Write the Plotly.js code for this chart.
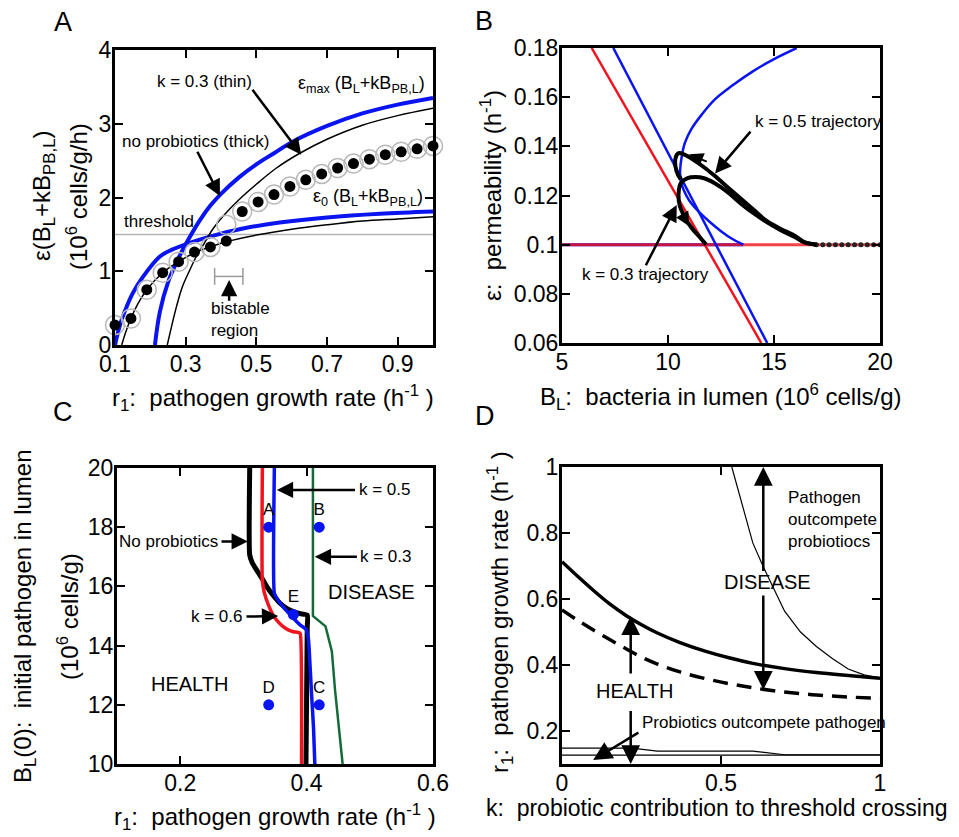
<!DOCTYPE html>
<html><head><meta charset="utf-8">
<script src="https://cdn.plot.ly/plotly-3.0.1.min.js"></script>
<style>html,body{margin:0;padding:0;background:#fff}#chart{width:959px;height:837px}</style>
</head><body><div id="chart"></div>
<script>
// ---------- Panel A data ----------
const aMaxThickR = [0.213,0.227,0.25,0.28,0.31,0.34,0.37,0.4,0.45,0.5,0.55,0.6,0.7,0.8,0.9,1.0];
const aMaxThickE = [0,0.45,0.85,1.18,1.45,1.69,1.89,2.05,2.27,2.45,2.6,2.75,2.97,3.14,3.26,3.35];
const aMaxThinR = [0.248,0.26,0.274,0.29,0.312,0.33,0.349,0.378,0.416,0.462,0.5,0.557,0.623,0.7,0.8,0.9,1.0];
const aMaxThinE = [0,0.25,0.52,0.78,1.02,1.2,1.35,1.58,1.8,2.02,2.18,2.4,2.6,2.79,2.98,3.11,3.21];
const aE0ThickR = [0.1,0.11,0.12,0.133,0.15,0.18,0.227,0.26,0.303,0.368,0.462,0.566,0.7,0.85,1.0];
const aE0ThickE = [0,0.2,0.36,0.52,0.7,0.93,1.2,1.29,1.37,1.47,1.58,1.66,1.73,1.78,1.81];
const aE0ThinR = [0.119,0.13,0.145,0.165,0.19,0.235,0.28,0.325,0.37,0.415,0.5,0.6,0.7,0.8,0.9,1.0];
const aE0ThinE = [0,0.17,0.36,0.56,0.75,0.98,1.13,1.25,1.33,1.4,1.49,1.57,1.63,1.68,1.71,1.74];
const aDotR = [0.1,0.145,0.19,0.235,0.28,0.325,0.37,0.415,0.46,0.505,0.55,0.595,0.64,0.685,0.73,0.775,0.82,0.865,0.91,0.955,1.0];
const aDotE = [0.27,0.36,0.75,0.98,1.13,1.26,1.33,1.41,1.81,1.94,2.04,2.15,2.24,2.32,2.40,2.46,2.52,2.58,2.62,2.66,2.70];
const aRingE = [0.27,0.36,0.75,0.98,1.13,1.26,1.33,1.63,1.81,1.94,2.04,2.15,2.24,2.32,2.40,2.46,2.52,2.58,2.62,2.66,2.70];
const aThreshR = [0.1,1.0];
const aThreshE = [1.5,1.5];
const aBistR = [0.382,0.462];
const aBistE = [0.93,0.93];
const aXTicks = [0.1,0.3,0.5,0.7,0.9];
const aXTickText = ['0.1','0.3','0.5','0.7','0.9'];
const aYTicks = [0,1,2,3,4];

// ---------- Panel B data ----------
const bRedLineX = [6.4,14.4];
const bRedLineY = [0.18,0.06];
const bBlueLineX = [7.42,14.68];
const bBlueLineY = [0.18,0.06];
const bBlueCurveX = [16.07,15.0,14.0,13.0,12.2,11.6,11.1,10.8,10.65,10.57,10.6,10.75,11.0,11.5,12.0,12.5,13.0,13.55];
const bBlueCurveY = [0.18,0.1755,0.1705,0.1645,0.159,0.153,0.147,0.1415,0.136,0.13,0.126,0.122,0.118,0.113,0.109,0.1055,0.1025,0.1];
const bFloorBlueX = [5,13.55];
const bFloorBlueY = [0.1,0.1];
const bFloorRedX = [5,20];
const bFloorRedY = [0.1,0.1];
const bTraj05X = [17.0,16.4,16.0,15.3,14.6,14.0,13.4,12.8,12.2,11.7,11.2,10.8,10.5,10.35,10.4,10.6];
const bTraj05Y = [0.1,0.1012,0.1035,0.1065,0.11,0.1145,0.119,0.1235,0.128,0.1315,0.1345,0.1365,0.1372,0.135,0.13,0.1265];
const bTraj03X = [17.0,16.4,16.0,15.3,14.6,14.0,13.4,12.8,12.2,11.7,11.3,10.9,10.6,10.5,10.55,10.8,11.1,11.5,11.8];
const bTraj03Y = [0.1,0.101,0.103,0.106,0.1095,0.113,0.117,0.1215,0.125,0.127,0.1275,0.127,0.125,0.121,0.116,0.111,0.107,0.103,0.1];
const bTailDotX = [17.0,17.3,17.6,17.9,18.2,18.5,18.8,19.1,19.4,19.7,20.0];
const bTailDotY = [0.1,0.1,0.1,0.1,0.1,0.1,0.1,0.1,0.1,0.1,0.1];
const bXTicks = [5,10,15,20];
const bYTicks = [0.06,0.08,0.1,0.12,0.14,0.16,0.18];
const bYTickText = ['0.06','0.08','0.1','0.12','0.14','0.16','0.18'];

// ---------- Panel C data ----------
const cNoPbR = [0.310,0.310,0.314,0.321,0.330,0.337,0.347,0.358,0.369,0.379,0.390,0.401,0.401,0.399];
const cNoPbB = [20,17.06,16.8,16.55,16.25,15.99,15.7,15.43,15.25,15.15,15.08,15.03,14.6,10];
const cK06R = [0.330,0.330,0.333,0.340,0.347,0.355,0.363,0.371,0.379,0.388,0.390,0.392];
const cK06B = [20,16.2,15.8,15.35,15.03,14.8,14.64,14.53,14.47,14.44,14.4,10];
const cK05R = [0.349,0.349,0.353,0.3585,0.365,0.372,0.381,0.3896,0.399,0.403,0.405,0.408,0.411,0.413];
const cK05B = [20,15.77,15.6,15.43,15.25,15.09,14.88,14.7,14.55,14.2,13.5,12.3,11.2,10];
const cK03R = [0.41,0.41,0.43,0.44,0.445,0.457];
const cK03B = [20,15.0,14.65,13.8,12.5,10];
const cPtR = [0.34,0.42,0.42,0.34,0.379];
const cPtB = [18,18,12,12,15.05];
const cPtLabel = ['A','B','C','D','E'];
const cXTicks = [0.2,0.4,0.6];
const cYTicks = [10,12,14,16,18,20];

// ---------- Panel D data ----------
const dK = [0,0.05,0.1,0.15,0.2,0.25,0.3,0.371,0.45,0.528,0.6,0.7,0.8,0.9,1.0];
const dSolid = [0.713,0.668,0.625,0.585,0.551,0.522,0.497,0.468,0.442,0.421,0.405,0.389,0.377,0.368,0.36];
const dDashed = [0.567,0.535,0.505,0.477,0.45,0.424,0.403,0.379,0.359,0.343,0.331,0.318,0.309,0.303,0.299];
const dUpperK = [0.534,0.56,0.6,0.633,0.7,0.75,0.8,0.85,0.9,0.95,1.0];
const dUpperR = [1.0,0.91,0.77,0.698,0.563,0.5,0.456,0.42,0.388,0.37,0.36];
const dLowAK = [0,0.22,0.3,0.6,0.7,1.0];
const dLowAR = [0.148,0.148,0.139,0.139,0.128,0.128];
const dLowBK = [0,1];
const dLowBR = [0.127,0.127];
const dXTicks = [0,0.5,1];
const dYTicks = [0.2,0.4,0.6,0.8,1];
const dYTickText = ['0.2','0.4','0.6','0.8','1'];

// ---------- layout helpers ----------
const W = 959, H = 837;
const px = v => v / W, py = v => 1 - v / H;
function axis(domain, range, tickvals, ticktext, anchor) {
  const o = {domain, range, tickmode:'array', tickvals, ticks:'inside', ticklen:8, tickwidth:2,
    tickcolor:'#000', showline:true, linewidth:3, linecolor:'#000', mirror:'allticks',
    showgrid:false, zeroline:false, tickfont:{size:23, color:'#000'}, anchor, fixedrange:true,
    ticklabelstandoff:-4};
  if (ticktext) o.ticktext = ticktext;
  return o;
}
function arrow(xa, ya, tailX, tailY, tipX, tipY, extra) {
  return Object.assign({xref:xa, yref:ya, axref:xa, ayref:ya, x:tipX, y:tipY, ax:tailX, ay:tailY,
    text:'', showarrow:true, arrowhead:2, arrowsize:1.3, arrowwidth:2.5, arrowcolor:'#000', standoff:0, startstandoff:0}, extra || {});
}
function label(xa, ya, x, y, text, size, xanchor, extra) {
  return Object.assign({xref:xa, yref:ya, x, y, text, showarrow:false, font:{size:size, color:'#000'},
    xanchor:xanchor || 'center', yanchor:'middle'}, extra || {});
}
function ptext(x, y, text, size, angle, extra) {
  return Object.assign({xref:'paper', yref:'paper', x:px(x), y:py(y), text, showarrow:false,
    font:{size:size, color:'#000'}, textangle:angle || 0, xanchor:'center', yanchor:'middle'}, extra || {});
}

const blue = '#0a14f0', red = '#f0141e', green = '#156b38';

const traces = [
  // Panel A
  {x:aThreshR, y:aThreshE, xaxis:'x', yaxis:'y', mode:'lines', line:{color:'#b4b4b4', width:1.5}},
  {x:aMaxThickR, y:aMaxThickE, xaxis:'x', yaxis:'y', mode:'lines', line:{color:blue, width:4, shape:'spline'}},
  {x:aE0ThickR, y:aE0ThickE, xaxis:'x', yaxis:'y', mode:'lines', line:{color:blue, width:4, shape:'spline'}},
  {x:aMaxThinR, y:aMaxThinE, xaxis:'x', yaxis:'y', mode:'lines', line:{color:'#000', width:1.5, shape:'spline'}},
  {x:aE0ThinR, y:aE0ThinE, xaxis:'x', yaxis:'y', mode:'lines', line:{color:'#000', width:1.5, shape:'spline'}},
  {x:aBistR, y:aBistE, xaxis:'x', yaxis:'y', mode:'lines+markers', line:{color:'#9a9a9a', width:1.5},
    marker:{symbol:'line-ns-open', size:12, color:'#9a9a9a', line:{width:1.5, color:'#9a9a9a'}}},
  {x:aDotR, y:aRingE, xaxis:'x', yaxis:'y', mode:'markers', cliponaxis:false,
    marker:{symbol:'circle-open', size:19, color:'#b8b8b8', line:{width:1.5, color:'#b8b8b8'}}},
  {x:aDotR, y:aDotE, xaxis:'x', yaxis:'y', mode:'markers', cliponaxis:false,
    marker:{symbol:'circle', size:11, color:'#000'}},
  // Panel B
  {x:bFloorBlueX, y:bFloorBlueY, xaxis:'x2', yaxis:'y2', mode:'lines', line:{color:blue, width:3}},
  {x:bFloorRedX, y:bFloorRedY, xaxis:'x2', yaxis:'y2', mode:'lines', opacity:0.8, line:{color:red, width:3}},
  {x:bRedLineX, y:bRedLineY, xaxis:'x2', yaxis:'y2', mode:'lines', line:{color:red, width:2.5}},
  {x:bBlueLineX, y:bBlueLineY, xaxis:'x2', yaxis:'y2', mode:'lines', line:{color:blue, width:2.5}},
  {x:bBlueCurveX, y:bBlueCurveY, xaxis:'x2', yaxis:'y2', mode:'lines', line:{color:blue, width:2.5, shape:'spline'}},
  {x:bTailDotX, y:bTailDotY, xaxis:'x2', yaxis:'y2', mode:'markers', cliponaxis:false, marker:{size:5, color:'#222'}},
  {x:bTraj05X, y:bTraj05Y, xaxis:'x2', yaxis:'y2', mode:'lines', line:{color:'#000', width:4, shape:'spline'}},
  {x:bTraj03X, y:bTraj03Y, xaxis:'x2', yaxis:'y2', mode:'lines', line:{color:'#000', width:4, shape:'spline'}},
  // Panel C
  {x:cNoPbR, y:cNoPbB, xaxis:'x3', yaxis:'y3', mode:'lines', line:{color:'#000', width:5, shape:'spline', smoothing:0.5}},
  {x:cK06R, y:cK06B, xaxis:'x3', yaxis:'y3', mode:'lines', line:{color:red, width:3.5, shape:'spline', smoothing:0.5}},
  {x:cK05R, y:cK05B, xaxis:'x3', yaxis:'y3', mode:'lines', line:{color:blue, width:3.5, shape:'spline', smoothing:0.5}},
  {x:cK03R, y:cK03B, xaxis:'x3', yaxis:'y3', mode:'lines', line:{color:green, width:2.5}},
  {x:cPtR, y:cPtB, text:cPtLabel, xaxis:'x3', yaxis:'y3', mode:'markers+text', textposition:'top center',
    textfont:{size:17, color:'#000'}, marker:{size:11, color:blue}},
  // Panel D
  {x:dK, y:dSolid, xaxis:'x4', yaxis:'y4', mode:'lines', line:{color:'#000', width:3.5, shape:'spline'}},
  {x:dK, y:dDashed, xaxis:'x4', yaxis:'y4', mode:'lines', line:{color:'#000', width:3.5, dash:'15px,9px', shape:'spline'}},
  {x:dUpperK, y:dUpperR, xaxis:'x4', yaxis:'y4', mode:'lines', line:{color:'#000', width:1.2}},
  {x:dLowAK, y:dLowAR, xaxis:'x4', yaxis:'y4', mode:'lines', line:{color:'#000', width:1.2}},
  {x:dLowBK, y:dLowBR, xaxis:'x4', yaxis:'y4', mode:'lines', line:{color:'#000', width:1.2}}
];

const annotations = [
  // panel letters
  ptext(63, 22, 'A', 27), ptext(484, 21, 'B', 27), ptext(63, 412, 'C', 27), ptext(485, 416, 'D', 27),
  // axis titles
  ptext(273, 398, 'r<sub>1</sub>:  pathogen growth rate (h<sup>-1</sup> )', 24),
  ptext(43, 196, 'ε(B<sub>L</sub>+kB<sub>PB,L</sub>)', 24, -90),
  ptext(77, 197, '(10<sup>6</sup> cells/g/h)', 24, -90),
  ptext(721, 397, 'B<sub>L</sub>:  bacteria in lumen (10<sup>6</sup> cells/g)', 24),
  ptext(491, 196, 'ε:  permeability (h<sup>-1</sup>)', 24, -90),
  ptext(275, 817, 'r<sub>1</sub>:  pathogen growth rate (h<sup>-1</sup> )', 24),
  ptext(24, 616, 'B<sub>L</sub>(0):  initial pathogen in lumen', 24, -90),
  ptext(68, 617, '(10<sup>6</sup> cells/g)', 24, -90),
  ptext(717, 808, 'k:  probiotic contribution to threshold crossing', 23),
  ptext(500, 612, 'r<sub>1</sub>:  pathogen growth rate (h<sup>-1</sup> )', 24, -90),
  // Panel A labels
  label('x','y', 0.352, 3.57, 'k = 0.3 (thin)', 17),
  label('x','y', 0.984, 3.53, 'ε<sub>max</sub> (B<sub>L</sub>+kB<sub>PB,L</sub>)', 18, 'right'),
  label('x','y', 0.328, 2.76, 'no probiotics (thick)', 17),
  label('x','y', 0.976, 2.0, 'ε<sub>0</sub> (B<sub>L</sub>+kB<sub>PB,L</sub>)', 18, 'right'),
  label('x','y', 0.12, 1.67, 'threshold', 17, 'left'),
  label('x','y', 0.366, 0.34, 'bistable<br>region', 17, 'left', {align:'left'}),
  arrow('x','y', 0.486, 3.48, 0.627, 2.58),
  arrow('x','y', 0.331, 2.64, 0.397, 2.02),
  arrow('x','y', 0.423, 0.58, 0.423, 0.88),
  // Panel B labels
  label('x2','y2', 14.02, 0.15, 'k = 0.5 trajectory', 17, 'left'),
  label('x2','y2', 8.92, 0.0877, 'k = 0.3 trajectory', 17),
  arrow('x2','y2', 13.95, 0.1466, 12.22, 0.129),
  arrow('x2','y2', 8.92, 0.091, 10.41, 0.1161),
  arrow('x2','y2', 11.9, 0.1335, 11.0, 0.1368, {arrowwidth:2, arrowsize:1.4}),
  arrow('x2','y2', 10.6, 0.1135, 11.0, 0.1075, {arrowwidth:2, arrowsize:1.4}),
  // Panel C labels
  label('x3','y3', 0.2625, 17.52, 'No probiotics', 17, 'right'),
  arrow('x3','y3', 0.263, 17.52, 0.307, 17.52),
  label('x3','y3', 0.479, 19.26, 'k = 0.5', 17, 'left'),
  arrow('x3','y3', 0.479, 19.26, 0.353, 19.26),
  label('x3','y3', 0.482, 17.0, 'k = 0.3', 17, 'left'),
  arrow('x3','y3', 0.482, 17.0, 0.413, 17.0),
  label('x3','y3', 0.3025, 14.98, 'k = 0.6', 17, 'right'),
  arrow('x3','y3', 0.3025, 14.98, 0.355, 15.0),
  label('x3','y3', 0.503, 15.82, 'DISEASE', 20),
  label('x3','y3', 0.2145, 12.7, 'HEALTH', 20),
  // Panel D labels
  arrow('x4','y4', 0.216, 0.37, 0.216, 0.548, {arrowsize:1.5}),
  arrow('x4','y4', 0.216, 0.265, 0.216, 0.1, {arrowsize:1.5}),
  arrow('x4','y4', 0.633, 0.68, 0.633, 1.0, {arrowsize:1.5}),
  arrow('x4','y4', 0.633, 0.615, 0.633, 0.325, {arrowsize:1.5}),
  arrow('x4','y4', 0.245, 0.198, 0.098, 0.112, {arrowsize:1.5}),
  label('x4','y4', 0.646, 0.652, 'DISEASE', 20),
  label('x4','y4', 0.227, 0.32, 'HEALTH', 20),
  label('x4','y4', 0.704, 0.842, 'Pathogen<br>outcompete<br>probiotiocs', 17, 'left', {align:'left'}),
  label('x4','y4', 0.245, 0.226, 'Probiotics outcompete pathogen', 17, 'left')
];

const layout = {
  width: W, height: H, margin:{l:0, r:0, t:0, b:0}, showlegend:false,
  paper_bgcolor:'#fff', plot_bgcolor:'rgba(0,0,0,0)',
  font:{family:'Liberation Sans, Arial, sans-serif', color:'#000'},
  xaxis: axis([px(115), px(433)], [0.1, 1.0], aXTicks, aXTickText, 'y'),
  yaxis: axis([py(345), py(50)], [0, 4], aYTicks, null, 'x'),
  xaxis2: axis([px(562), px(880)], [5, 20], bXTicks, null, 'y2'),
  yaxis2: axis([py(343), py(48)], [0.06, 0.18], bYTicks, bYTickText, 'x2'),
  xaxis3: axis([px(117), px(433)], [0.1, 0.6], cXTicks, null, 'y3'),
  yaxis3: axis([py(764), py(468)], [10, 20], cYTicks, null, 'x3'),
  xaxis4: axis([px(562), px(880)], [0, 1], dXTicks, null, 'y4'),
  yaxis4: axis([py(764), py(467)], [0.1, 1], dYTicks, dYTickText, 'x4'),
  annotations
};

Plotly.newPlot('chart', traces, layout, {displayModeBar:false, staticPlot:true});
</script>
</body></html>
